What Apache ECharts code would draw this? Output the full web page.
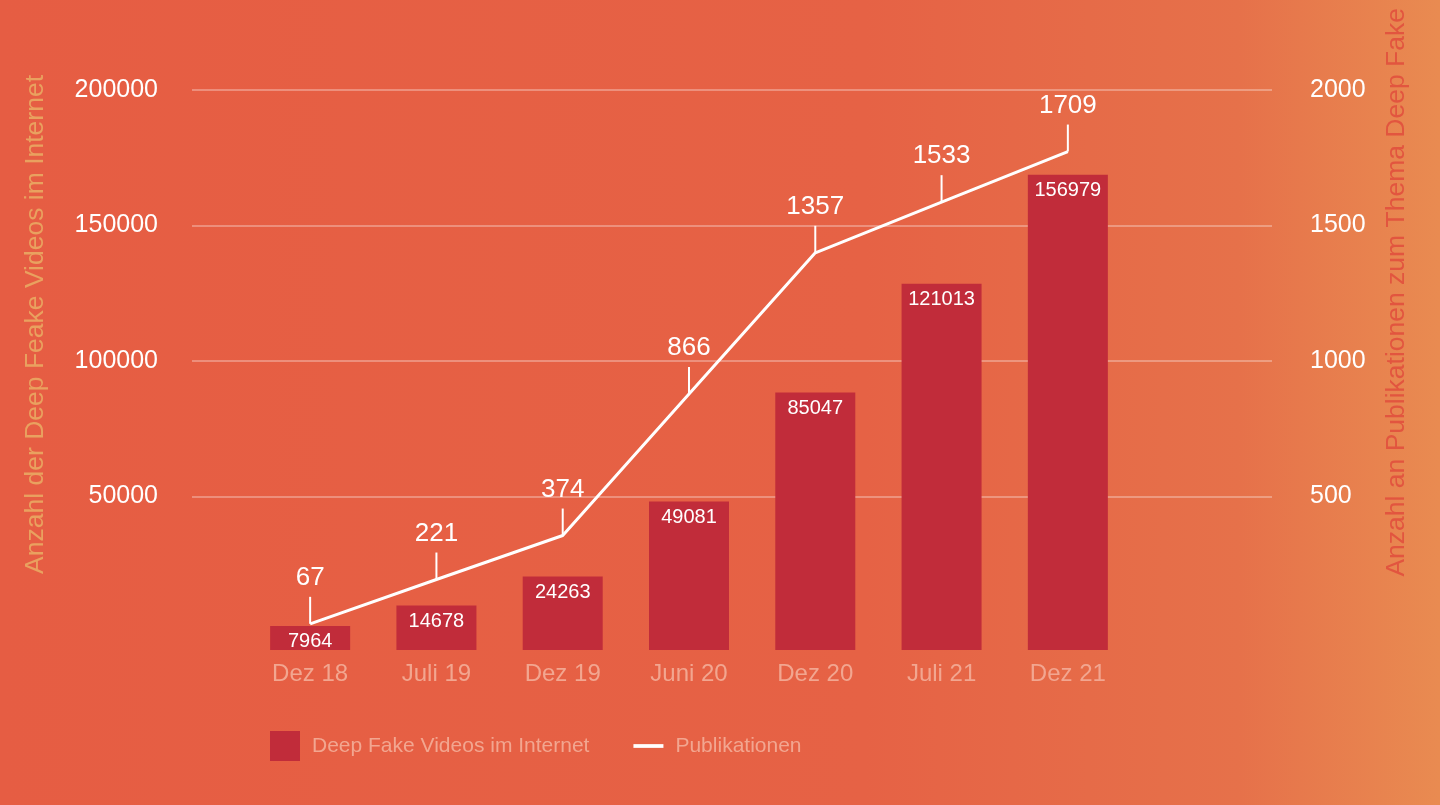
<!DOCTYPE html>
<html>
<head>
<meta charset="utf-8">
<title>Deep Fake Videos und Publikationen</title>
<script src="https://cdn.jsdelivr.net/npm/echarts@6/dist/echarts.min.js"></script>
<style>
  html, body { margin: 0; padding: 0; }
  #chart { width: 1440px; height: 805px; }
</style>
</head>
<body>
<div id="chart"></div>
<script>
// Data
const categories = ['Dez 18', 'Juli 19', 'Dez 19', 'Juni 20', 'Dez 20', 'Juli 21', 'Dez 21'];
const videoCounts = [7964, 14678, 24263, 49081, 85047, 121013, 156979];
const publications = [67, 221, 374, 866, 1357, 1533, 1709];
const leftTicks = [50000, 100000, 150000, 200000];
const rightTicks = [500, 1000, 1500, 2000];

const FONT = '"Liberation Sans", Arial, Helvetica, sans-serif';
const chart = echarts.init(document.getElementById('chart'));

const option = {
    backgroundColor: {
        type: 'linear', x: 0, y: 0, x2: 1, y2: 0,
        colorStops: [
            { offset: 0, color: '#E65D43' },
            { offset: 0.6, color: '#E66245' },
            { offset: 0.86, color: '#E6714A' },
            { offset: 1, color: '#E98B51' }
        ]
    },
    textStyle: { fontFamily: FONT },
    animation: false,
    grid: [
        // grid for the visible value axes and split lines
        { left: 192, right: 168, top: 90, bottom: 173 },
        // grid for bars, line and category labels
        { left: 247, right: 309, top: 90, bottom: 155 }
    ],
    xAxis: [
        { gridIndex: 0, type: 'category', data: categories, show: false },
        {
            gridIndex: 1,
            type: 'category',
            data: categories,
            axisLine: { show: false },
            axisTick: { show: false },
            axisLabel: { color: '#F2A690', fontSize: 24, margin: 12, fontFamily: FONT }
        }
    ],
    yAxis: [
        {
            gridIndex: 0,
            type: 'value',
            min: 0,
            max: leftTicks[leftTicks.length - 1],
            interval: leftTicks[1] - leftTicks[0],
            axisLine: { show: false },
            axisTick: { show: false },
            axisLabel: {
                color: '#ffffff', fontSize: 25, margin: 34, showMinLabel: false, fontFamily: FONT,
                formatter: v => String(v)
            },
            splitLine: { show: true, showMinLine: false, lineStyle: { color: 'rgba(255,255,255,0.3)', width: 2 } }
        },
        {
            gridIndex: 0,
            type: 'value',
            position: 'right',
            min: 0,
            max: rightTicks[rightTicks.length - 1],
            interval: rightTicks[1] - rightTicks[0],
            axisLine: { show: false },
            axisTick: { show: false },
            axisLabel: {
                color: '#ffffff', fontSize: 25, margin: 38, showMinLabel: false, fontFamily: FONT,
                formatter: v => String(v)
            },
            splitLine: { show: false }
        },
        { gridIndex: 1, type: 'value', min: 0, max: 185000, show: false },
        { gridIndex: 1, type: 'value', min: -24, max: 1923, show: false }
    ],
    legend: {
        left: 265,
        top: 726,
        itemWidth: 30,
        itemHeight: 30,
        itemGap: 44,
        textStyle: { color: '#F2A690', fontSize: 21, fontFamily: FONT, padding: [0, 0, 0, 7] },
        data: [
            { name: 'Deep Fake Videos im Internet', icon: 'rect' },
            { name: 'Publikationen', icon: 'path://M0,0 H24 V3 H0 Z', itemStyle: { color: '#ffffff' } }
        ]
    },
    graphic: [
        {
            type: 'text',
            left: 22,
            top: 75,
            rotation: Math.PI / 2,
            style: {
                text: 'Anzahl der Deep Feake Videos im Internet',
                fill: '#E9A15F',
                font: '26.5px ' + FONT
            }
        },
        {
            type: 'text',
            right: 30,
            top: 8,
            rotation: Math.PI / 2,
            style: {
                text: 'Anzahl an Publikationen zum Thema Deep Fake',
                fill: '#E2553F',
                font: '26.5px ' + FONT
            }
        }
    ],
    series: [
        {
            name: 'Publikationen',
            type: 'line',
            xAxisIndex: 1,
            yAxisIndex: 3,
            data: publications,
            z: 1,
            lineStyle: { color: '#ffffff', width: 3 },
            itemStyle: { color: '#ffffff' },
            symbol: 'rect',
            symbolSize: [2, 27],
            symbolOffset: [0, '-50%'],
            label: {
                show: true,
                position: 'top',
                distance: 6,
                color: '#ffffff',
                fontSize: 26,
                fontFamily: FONT
            }
        },
        {
            name: 'Deep Fake Videos im Internet',
            type: 'bar',
            xAxisIndex: 1,
            yAxisIndex: 2,
            data: videoCounts,
            z: 3,
            barWidth: 80,
            itemStyle: { color: '#C12C3A' },
            label: {
                show: true,
                position: 'insideTop',
                distance: 6,
                color: '#ffffff',
                fontSize: 20,
                fontFamily: FONT
            }
        }
    ]
};

chart.setOption(option);
</script>
</body>
</html>
